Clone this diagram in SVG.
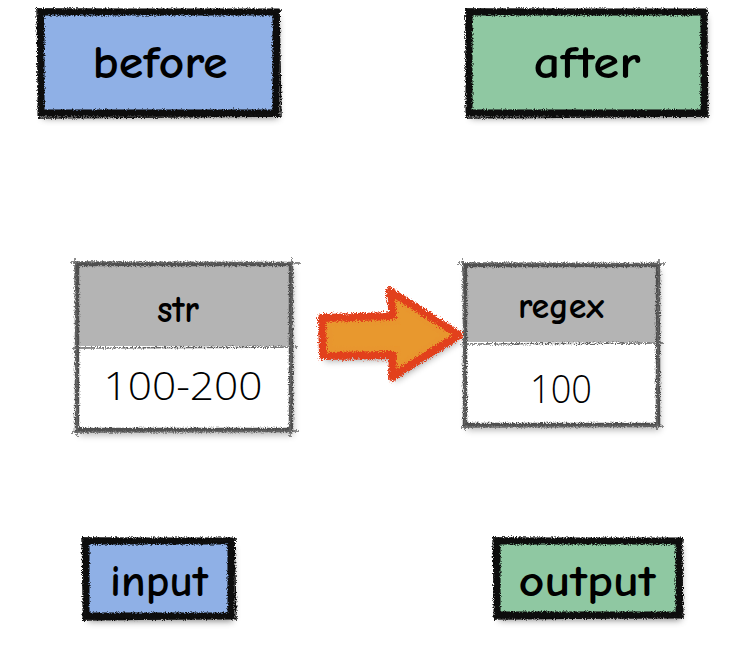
<svg xmlns="http://www.w3.org/2000/svg" width="738" height="653" viewBox="0 0 738 653">
<defs>
<filter id="rough" x="-10%" y="-10%" width="120%" height="120%">
<feTurbulence type="fractalNoise" baseFrequency="0.9" numOctaves="2" seed="3" result="n"/>
<feDisplacementMap in="SourceGraphic" in2="n" scale="4.5" xChannelSelector="R" yChannelSelector="G"/>
</filter>
<filter id="rougher" x="-10%" y="-10%" width="120%" height="120%">
<feTurbulence type="fractalNoise" baseFrequency="1.2" numOctaves="2" seed="7" result="n"/>
<feDisplacementMap in="SourceGraphic" in2="n" scale="7" xChannelSelector="R" yChannelSelector="G"/>
</filter>
<filter id="shadow" x="-20%" y="-20%" width="140%" height="150%">
<feGaussianBlur in="SourceAlpha" stdDeviation="3.5"/>
<feOffset dx="2" dy="5" result="b"/>
<feFlood flood-color="#000" flood-opacity="0.5"/>
<feComposite in2="b" operator="in"/>
</filter>
<style>
.lbl{font-family:"Comic Sans MS","Comic Neue","DejaVu Sans",sans-serif;fill:#000;text-anchor:middle}
.num{font-family:"Open Sans","DejaVu Sans",sans-serif;font-weight:300;fill:#000;text-anchor:middle}
.blk{fill:none;stroke:#0a0a0a;stroke-width:7;filter:url(#rough)}
.blk2{fill:none;stroke:#111;stroke-width:1.5;filter:url(#rough)}
.gry{fill:none;stroke:#4f4f4f;stroke-width:4.5;filter:url(#rough)}
.gry2{fill:none;stroke:#666;stroke-width:1.5;filter:url(#rough)}
.blue{fill:#8fb0e6}
.green{fill:#8fc8a2}
.head{fill:#b4b4b4}
</style>
</defs>
<rect width="738" height="653" fill="#fff"/>

<g id="before">
<rect x="41" y="12" width="235" height="101" fill="#000" filter="url(#shadow)"/>
<rect class="blue" x="41" y="12" width="235" height="101"/>
<rect class="blk" x="41" y="12" width="235" height="101"/>
<path class="blk2" d="M36 9 L282 11 M38 118 L281 116 M37 8 L39 119 M279 9 L281 118"/>
<text class="lbl" x="160" y="78" font-size="46" font-weight="bold" textLength="135" lengthAdjust="spacingAndGlyphs">before</text>
</g>

<g id="after">
<rect x="469" y="12" width="235" height="101" fill="#000" filter="url(#shadow)"/>
<rect class="green" x="469" y="12" width="235" height="101"/>
<rect class="blk" x="469" y="12" width="235" height="101"/>
<path class="blk2" d="M465 9 L708 11 M466 118 L707 116 M466 8 L467 119 M706 9 L708 118"/>
<text class="lbl" x="587" y="78" font-size="46" font-weight="bold" textLength="107" lengthAdjust="spacingAndGlyphs">after</text>
</g>

<g id="str">
<rect x="77" y="264" width="214" height="166" fill="#000" filter="url(#shadow)" opacity="0.6"/>
<rect class="head" x="77" y="264" width="214" height="82"/>
<rect x="77" y="346" width="214" height="84" fill="#fff"/>
<rect class="gry" x="77" y="264" width="214" height="166"/>
<path class="gry" d="M75 346 L293 346"/>
<path class="gry2" d="M70 262 L300 263 M72 348 L298 347 M72 432 L299 431 M75 258 L77 436 M292 258 L290 437"/>
<text class="lbl" x="178" y="322" font-size="38" font-weight="bold" textLength="42" lengthAdjust="spacingAndGlyphs">str</text>
<text class="num" x="183" y="400" font-size="38" textLength="159" lengthAdjust="spacingAndGlyphs">100-200</text>
</g>

<g id="regex">
<rect x="465" y="265" width="193" height="160" fill="#000" filter="url(#shadow)" opacity="0.6"/>
<rect class="head" x="465" y="265" width="193" height="77"/>
<rect x="465" y="342" width="193" height="83" fill="#fff"/>
<rect class="gry" x="465" y="265" width="193" height="160"/>
<path class="gry" d="M463 342 L660 342"/>
<path class="gry2" d="M458 263 L665 264 M460 344 L664 343 M460 427 L664 426 M463 259 L465 430 M659 259 L657 430"/>
<text class="lbl" x="561" y="318" font-size="36" font-weight="bold" textLength="86" lengthAdjust="spacingAndGlyphs">regex</text>
<text class="num" x="561" y="403" font-size="38" textLength="62" lengthAdjust="spacingAndGlyphs">100</text>
</g>

<g id="input">
<rect x="86" y="541" width="145" height="75" fill="#000" filter="url(#shadow)"/>
<rect class="blue" x="86" y="541" width="145" height="75"/>
<rect class="blk" x="86" y="541" width="145" height="75"/>
<path class="blk2" d="M81 538 L237 540 M83 620 L236 618 M82 537 L84 621 M234 537 L236 620"/>
<text class="lbl" x="159" y="596" font-size="44" font-weight="bold" textLength="98" lengthAdjust="spacingAndGlyphs">input</text>
</g>

<g id="output">
<rect x="497" y="541" width="182" height="74" fill="#000" filter="url(#shadow)"/>
<rect class="green" x="497" y="541" width="182" height="74"/>
<rect class="blk" x="497" y="541" width="182" height="74"/>
<path class="blk2" d="M492 538 L684 540 M494 619 L683 617 M493 537 L495 620 M681 537 L683 619"/>
<text class="lbl" x="587" y="596" font-size="44" font-weight="bold" textLength="137" lengthAdjust="spacingAndGlyphs">output</text>
</g>

<g id="connectors">
<path d="M322 318 L393 316 L390 291 L459 335 L392 377 L393 355 L323 356 Z" fill="#000" filter="url(#shadow)" opacity="0.7"/>
<path d="M322 318 L393 316 L390 291 L459 335 L392 377 L393 355 L323 356 Z" fill="#e8962e" stroke="#e2401e" stroke-width="8" stroke-linejoin="round" filter="url(#rougher)"/>
<path d="M332 326 L400 325 L399 306 L440 335 L400 362 L401 346 L333 347 Z" fill="#e8982f" filter="url(#rough)"/>
</g>
</svg>
